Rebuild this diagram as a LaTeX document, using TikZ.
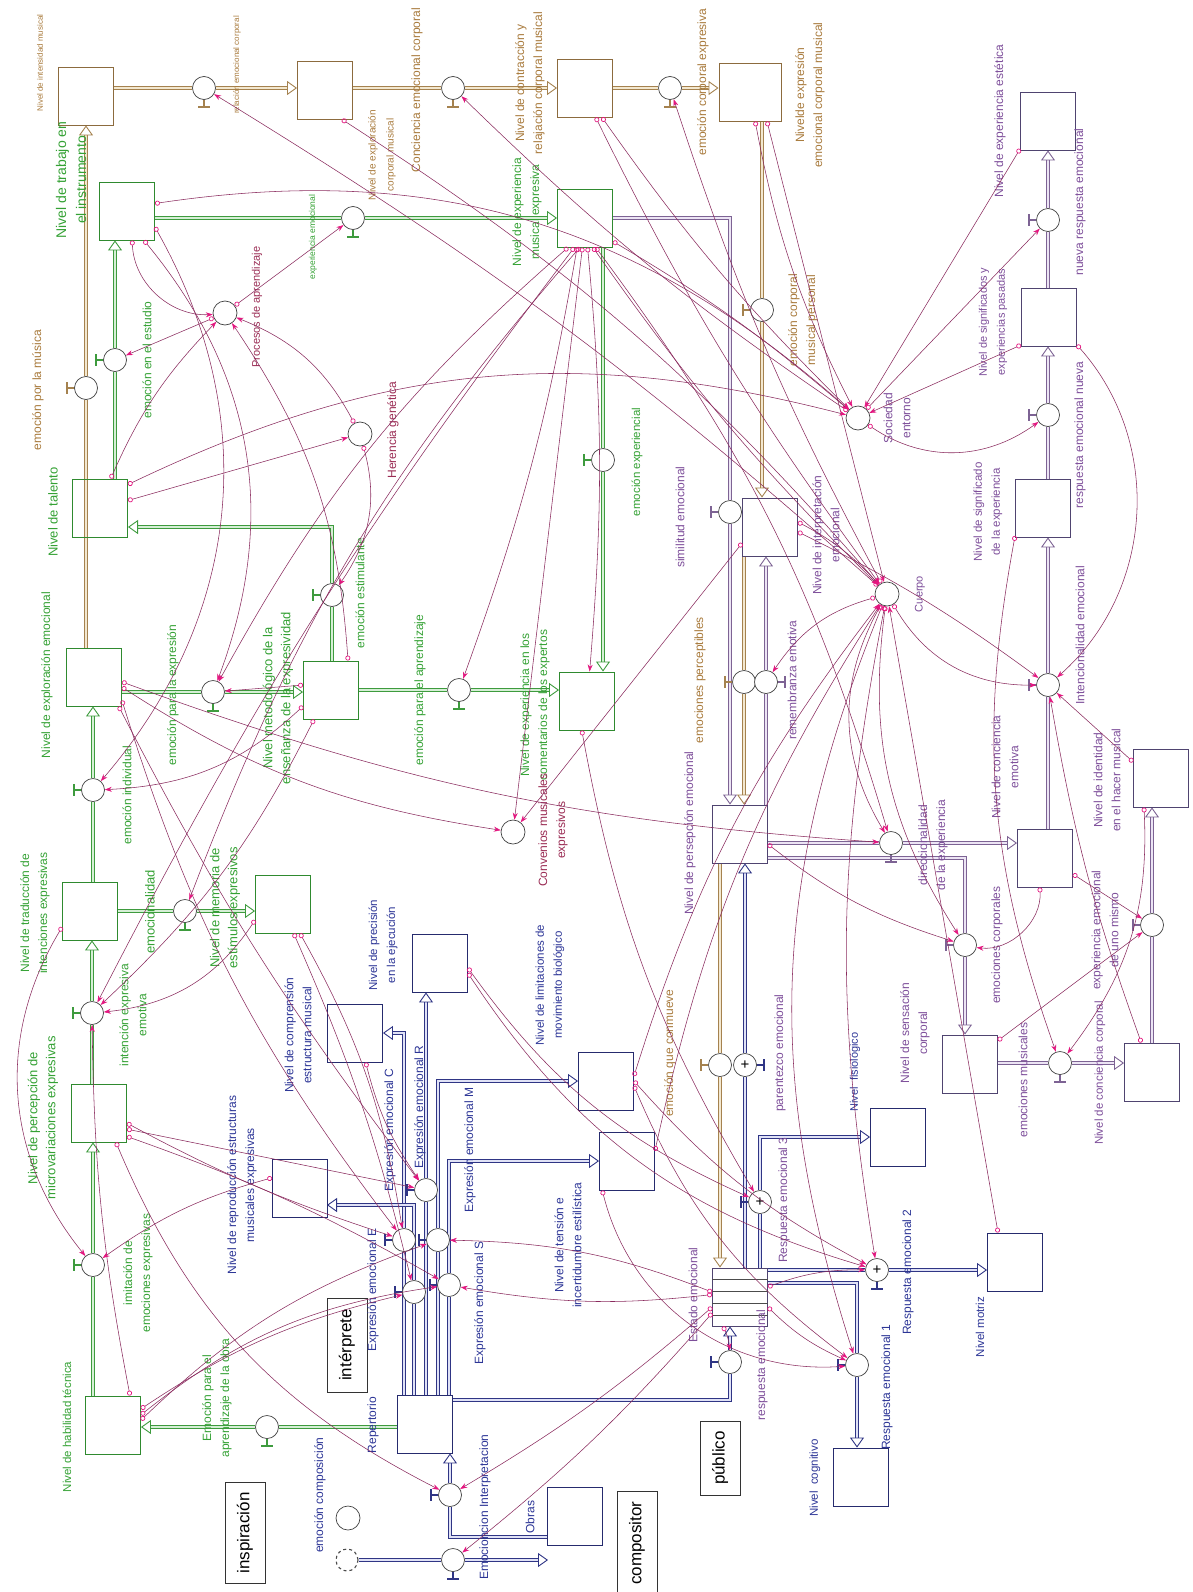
\documentclass[tikz,border=0pt]{standalone}
\usepackage{fontspec}
\setmainfont{Liberation Sans}
\usetikzlibrary{arrows.meta,positioning,calc,backgrounds}
\definecolor{ftan}{HTML}{A5824F}
\definecolor{ftanin}{HTML}{F3E8D0}
\definecolor{fgreen}{HTML}{3E9B3E}
\definecolor{fgreenin}{HTML}{D6EFD6}
\definecolor{fpurp}{HTML}{7D6394}
\definecolor{fpurpin}{HTML}{ECE4F4}
\definecolor{fblue}{HTML}{2F3585}
\definecolor{fbluein}{HTML}{E0E2F6}
\definecolor{stan}{HTML}{8C6B3E}
\definecolor{sgreen}{HTML}{2F8A2F}
\definecolor{sblue}{HTML}{262B6E}
\definecolor{spurp}{HTML}{4F4470}
\definecolor{clink}{HTML}{8A2B5E}
\definecolor{ctip}{HTML}{E3167F}
\definecolor{ltan}{HTML}{A87A3C}
\definecolor{lgreen}{HTML}{34A134}
\definecolor{lpurp}{HTML}{7D4E9A}
\definecolor{lblue}{HTML}{2C3596}
\definecolor{lmaroon}{HTML}{9A2C54}
\tikzset{
  stock/.style ={draw=#1,line width=0.9pt,minimum width=55pt,minimum height=58pt,inner sep=0pt},
  stock/.default=black,
  conv/.style  ={circle,draw=black!75,fill=white,line width=0.7pt,minimum size=24pt,inner sep=0pt},
  valve/.style ={circle,draw=black!75,fill=white,line width=0.7pt,minimum size=23pt,inner sep=0pt,
                 font=\fontsize{15}{15}\selectfont},
  lab/.style   ={rotate=90,align=center,inner sep=1pt,text=#1,font=\fontsize{12}{18}\selectfont},
  lab/.default=black,
  fs/.style    ={font=\fontsize{#1}{18}\selectfont},
  actor/.style ={draw=black!80,line width=0.9pt,rotate=90,minimum height=40pt,inner xsep=10pt,
                 font=\fontsize{17}{17}\selectfont},
  flowT/.style ={draw=ftan,double=ftanin,double distance=1.8pt,line width=0.9pt},
  flowG/.style ={draw=fgreen,double=fgreenin,double distance=1.8pt,line width=0.9pt},
  flowP/.style ={draw=fpurp,double=fpurpin,double distance=1.8pt,line width=0.9pt},
  flowB/.style ={draw=fblue,double=fbluein,double distance=1.8pt,line width=0.9pt},
  ftip/.style  ={-{Triangle[open,length=10pt,width=14pt]}},
  conn/.style  ={draw=clink,line width=0.55pt,
                 {Circle[open,length=5pt,color=ctip,line width=0.7pt]}-{Stealth[length=7pt,width=5pt,color=ctip]}}
}
% valves: name, position, flow colour; handle left / below / right
\newcommand{\valveL}[4][]{%
  \node[valve] (#2) at (#3) {#1};
  \draw[#4,line width=1.2pt] (#2.west) -- ++(-6,0);
  \draw[#4,line width=2.6pt] (#2.west) ++(-7,-6) -- ++(0,12);}
\newcommand{\valveB}[4][]{%
  \node[valve] (#2) at (#3) {#1};
  \draw[#4,line width=1.2pt] (#2.south) -- ++(0,6);
  \draw[#4,line width=2.6pt] (#2.south) ++(-6,7) -- ++(12,0);}
\newcommand{\valveR}[4][]{%
  \node[valve] (#2) at (#3) {#1};
  \draw[#4,line width=1.2pt] (#2.east) -- ++(6,0);
  \draw[#4,line width=2.6pt] (#2.east) ++(7,-6) -- ++(0,12);}

\begin{document}
\begin{tikzpicture}[x=1pt,y=-1pt]
\useasboundingbox (0,0) rectangle (1193,1592);

% --- stocks
\node[stock=stan]   (intens)    at (86,96)    {};
\node[stock=stan]   (explcorp)  at (325,90)   {};
\node[stock=stan]   (contr)     at (585,88)   {};
\node[stock=stan,minimum width=62pt] (exprcorp) at (750,92) {};
\node[stock=sgreen] (trabajo)   at (127,211)  {};
\node[stock=sgreen] (musexpr)   at (585,218)  {};
\node[stock=sgreen] (talento)   at (100,508)  {};
\node[stock=sgreen] (explemo)   at (94,677)   {};
\node[stock=sgreen] (metodo)    at (331,690)  {};
\node[stock=sgreen] (conven)    at (587,701)  {};
\node[stock=sgreen] (traduc)    at (90,911)   {};
\node[stock=sgreen] (memoria)   at (283,904)  {};
\node[stock=sgreen] (micro)     at (99,1113)  {};
\node[stock=sgreen] (habil)     at (113,1425) {};
\node[stock=sblue]  (compr)     at (355,1033) {};
\node[stock=sblue]  (precis)    at (440,963)  {};
\node[stock=sblue]  (reprod)    at (300,1188) {};
\node[stock=sblue]  (limit)     at (606,1081) {};
\node[stock=sblue]  (tension)   at (627,1161) {};
\node[stock=sblue]  (repert)    at (425,1424) {};
\node[stock=sblue]  (obras)     at (575,1516) {};
\node[stock=spurp]  (interp)    at (770,527)  {};
\node[stock=spurp]  (percep)    at (740,834)  {};
\node[stock=spurp]  (estado)    at (740,1297) {};
\foreach \k in {1,2,3,4}
  \draw[black!70,line width=0.6pt] ($(estado.north west)+(0,12*\k)$) -- ($(estado.north east)+(0,12*\k)$);
\node[stock=spurp]  (estetica)  at (1048,121) {};
\node[stock=spurp]  (signifpas) at (1049,317) {};
\node[stock=spurp]  (signifexp) at (1043,508) {};
\node[stock=spurp]  (concemo)   at (1045,858) {};
\node[stock=spurp]  (identidad) at (1161,778) {};
\node[stock=spurp]  (sensac)    at (970,1064) {};
\node[stock=spurp]  (conccorp)  at (1152,1072) {};
\node[stock=sblue]  (fisiol)    at (898,1137) {};
\node[stock=sblue]  (motriz)    at (1015,1262) {};
\node[stock=sblue]  (cognit)    at (861,1477) {};

% --- valves
\valveB{vrelac}{204,88}{ftan}
\valveB{vconc}{453,88}{ftan}
\valveB{vcorpexp}{670,88}{ftan}
\valveL{vmusica}{86,388}{ftan}
\valveL{vpersonal}{762,310}{ftan}
\valveB{vexpemo}{353,218}{fgreen}
\valveL{vestudio}{115,360}{fgreen}
\valveL{vestimul}{332,595}{fgreen}
\valveB{vexpres}{213,692}{fgreen}
\valveB{vaprend}{459,690}{fgreen}
\valveL{vexperien}{603,460}{fgreen}
\valveL{vindiv}{93,790}{fgreen}
\valveB{vemocion}{185,911}{fgreen}
\valveL{vintenc}{92,1013}{fgreen}
\valveL{vimit}{93,1265}{fgreen}
\valveB{vobra}{267,1427}{fgreen}
\valveL{vexpc}{404,1240}{fblue}
\valveL{vexpe}{414,1292}{fblue}
\valveL{vexpr}{426,1190}{fblue}
\valveL{vexpm}{438,1240}{fblue}
\valveL{vexps}{449,1285}{fblue}
\valveL{vinterp}{450,1495}{fblue}
\valveB{vcompos}{453,1560}{fblue}
\valveL{vresp}{730,1362}{fblue}
\valveL{vsimil}{730,512}{fpurp}
\valveL{vpercept}{744,682}{ftan}
\valveR{vrememb}{766,682}{fpurp}
\valveL{vconmueve}{720,1065}{ftan}
\valveR[+]{vparent}{745,1065}{fblue}
\valveL[+]{vresp3}{760,1202}{fblue}
\valveB[+]{vresp2}{877,1270}{fblue}
\valveL{vresp1}{857,1365}{fblue}
\valveB{vdirecc}{891,843}{fpurp}
\valveL{vemocorp}{965,945}{fpurp}
\valveB{vmusicales}{1060,1063}{fpurp}
\valveL{vunomismo}{1152,925}{fpurp}
\valveL{vintenc2}{1048,685}{fpurp}
\valveL{vrespnueva}{1048,415}{fpurp}
\valveL{vnueva}{1048,220}{fpurp}

% --- converters
\node[conv] (cprocesos) at (225,313)  {};
\node[conv] (cherencia) at (360,434)  {};
\node[conv] (cconven)   at (513,832)  {};
\node[conv] (csociedad) at (858,418)  {};
\node[conv] (ccuerpo)   at (887,594)  {};
\node[conv] (ccompos)   at (348,1518) {};
\node[circle,draw=black!70,dashed,line width=1.1pt,minimum size=22pt] (nube) at (347,1560) {};
\coordinate (talin)  at (128,527);
\coordinate (repin)  at (327,1205);
\coordinate (obin)   at (548,1537);
\coordinate (obout)  at (548,1560);
\coordinate (repout) at (452,1400);
\coordinate (pcout)  at (767,858);
\coordinate (estout) at (767,1283);

% --- actors
\node[actor,minimum width=97pt]  (inspiracion) at (245,1533) {inspiración};
\node[actor,minimum width=94pt]  (interprete)  at (347,1345) {intérprete};
\node[actor,minimum width=100pt] (compositor)  at (637,1543) {compositor};
\node[actor,minimum width=70pt]  (publico)     at (720,1458) {público};

% --- labels
\node[lab=ltan,fs=8]    (l-intens)   at (40,63)   {Nivel de intensidad musical};
\node[lab=ltan,fs=8]    (l-relac)    at (237,65)  {relación emocional corporal};
\node[lab=ltan,fs=10]   (l-explcorp) at (382,155) {Nivel de exploración\\corporal musical};
\node[lab=ltan]         (l-conc)     at (417,90)  {Conciencia emocional corporal};
\node[lab=ltan]         (l-contr)    at (530,83)  {Nivel de contracción y\\relajación corporal musical};
\node[lab=ltan]         (l-corpexp)  at (703,82)  {emoción corporal expresiva};
\node[lab=ltan]         (l-exprcorp) at (810,95)  {Nivelde expresión\\emocional corporal musical};
\node[lab=lgreen,fs=14] (l-trabajo)  at (71,180)  {Nivel de trabajo en\\[2pt]el instrumento};
\node[lab=lgreen,fs=8.5] (l-expemo)  at (313,237) {experiencia emocional};
\node[lab=lgreen]       (l-musexpr)  at (527,212) {Nivel de experiencia\\musical expresiva};
\node[lab=lgreen]       (l-estudio)  at (147,360) {emoción en el estudio};
\node[lab=ltan]         (l-musica)   at (38,390)  {emoción por la música};
\node[lab=lmaroon,fs=11] (l-procesos) at (257,307) {Procesos de aprendizaje};
\node[lab=lgreen,fs=13] (l-talento)  at (53,512)  {Nivel de talento};
\node[lab=lgreen]       (l-explemo)  at (47,675)  {Nivel de exploración emocional};
\node[lab=lgreen]       (l-estimul)  at (360,593) {emoción estimulante};
\node[lab=lgreen,fs=13] (l-metodo)   at (278,698) {Nivel metodológico de la\\enseñanza de la expresividad};
\node[lab=lgreen]       (l-expres)   at (173,695) {emoción para la expresión};
\node[lab=lmaroon]      (l-herencia) at (393,430) {Herencia genética};
\node[lab=lgreen]       (l-aprend)   at (420,690) {emoción para el aprendizaje};
\node[lab=lgreen]       (l-conven)   at (535,705) {Nivel de experiencia en los\\comentarios de los expertos};
\node[lab=lgreen,fs=11.5] (l-experien) at (637,462) {emoción experiencial};
\node[lab=lmaroon]      (l-conv)     at (553,830) {Convenios musicales\\expresivos};
\node[lab=lgreen]       (l-indiv)    at (127,795) {emoción individual};
\node[lab=lgreen]       (l-traduc)   at (35,913)  {Nivel de traducción de\\intenciones expresivas};
\node[lab=lgreen,fs=13] (l-emocion)  at (150,912) {emocionalidad};
\node[lab=lgreen,fs=13] (l-memoria)  at (225,908) {Nivel de memoria de\\estímulos expresivos};
\node[lab=lgreen]       (l-intenc)   at (133,1015) {intención expresiva\\emotiva};
\node[lab=lgreen,fs=13] (l-micro)    at (43,1118) {Nivel de percepción de\\microvariaciones expresivas};
\node[lab=lgreen]       (l-imit)     at (138,1273) {imitación de\\emociones expresivas};
\node[lab=lgreen,fs=11.5] (l-habil)  at (67,1427) {Nivel de habilidad técnica};
\node[lab=lgreen]       (l-obra)     at (217,1398) {Emoción para el\\aprendizaje de la obra};
\node[lab=lblue]        (l-compr)    at (298,1035) {Nivel de comprensión\\estructura musical};
\node[lab=lblue,fs=11.5] (l-precis)  at (383,945) {Nivel de precisión\\en la ejecución};
\node[lab=lblue]        (l-reprod)   at (242,1185) {Nivel de reproducción estructuras\\musicales expresivas};
\node[lab=lblue,fs=11.5] (l-limit)   at (550,985) {Nivel de limitaciones de\\movimiento biológico};
\node[lab=lblue]        (l-tension)  at (568,1245) {Nivel de tensión e\\incertidumbre estilística};
\node[lab=lblue]        (l-repert)   at (373,1425) {Repertorio};
\node[lab=lblue]        (l-vinterp)  at (485,1507) {Emocioncion Interpretacion};
\node[lab=lblue]        (l-obras)    at (530,1517) {Obras};
\node[lab=lblue]        (l-compos)   at (320,1495) {emoción composición};
\node[lab=lblue]        (l-expc)     at (390,1130) {Expresión emocional C};
\node[lab=lblue]        (l-expr)     at (420,1107) {Expresión emocional R};
\node[lab=lblue]        (l-expm)     at (470,1150) {Expresión emocional M};
\node[lab=lblue]        (l-exps)     at (480,1303) {Expresión emocional S};
\node[lab=lblue]        (l-expe)     at (373,1290) {Expresión emocional E};
\node[lab=lpurp]        (l-estetica) at (1000,121) {Nivel de experiencia estética};
\node[lab=lpurp]        (l-nueva)    at (1080,202) {nueva respuesta emocional};
\node[lab=lpurp,fs=11]  (l-signifpas) at (993,322) {Nivel de significados y\\experiencias pasadas};
\node[lab=lpurp]        (l-respnueva) at (1080,435) {respuesta emocional nueva};
\node[lab=lpurp,fs=11.5] (l-signifexp) at (988,512) {Nivel de significado\\de la experiencia};
\node[lab=lpurp]        (l-sociedad) at (897,418) {Sociedad\\entorno};
\node[lab=lpurp,fs=11]  (l-cuerpo)   at (920,594) {Cuerpo};
\node[lab=lpurp]        (l-intenc2)  at (1080,635) {Intencionalidad emocional};
\node[lab=lpurp]        (l-identidad) at (1107,780) {Nivel de identidad\\en el hacer musical};
\node[lab=lpurp]        (l-concemo)  at (1005,767) {Nivel de conciencia\\emotiva};
\node[lab=lpurp]        (l-interp)   at (826,535) {Nivel de interpretación\\emocional};
\node[lab=lpurp]        (l-direcc)   at (933,845) {direccionalidad\\de la experiencia};
\node[lab=lpurp]        (l-emocorp)  at (997,945) {emociones corporales};
\node[lab=lpurp]        (l-sensac)   at (915,1033) {Nivel de sensación\\corporal};
\node[lab=lpurp]        (l-musicales) at (1023,1080) {emociones musicales};
\node[lab=lpurp,fs=11.5] (l-conccorp) at (1100,1073) {Nivel de conciencia corporal};
\node[lab=lpurp]        (l-unomismo) at (1105,930) {experiencia emocional\\de uno mismo};
\node[lab=lblue,fs=11]  (l-fisiol)   at (855,1072) {Nivel\ \ fisiológico};
\node[lab=lblue]        (l-resp2)    at (908,1272) {Respuesta emocional 2};
\node[lab=lblue,fs=11.5] (l-motriz)  at (980,1327) {Nivel motriz};
\node[lab=lblue]        (l-resp1)    at (887,1387) {Respuesta emocional 1};
\node[lab=lblue,fs=11.5] (l-cognit)  at (815,1478) {Nivel\ \ cognitivo};
\node[lab=lpurp]        (l-resp3)    at (784,1200) {Respuesta emocional 3};
\node[lab=lpurp]        (l-parent)   at (780,1053) {parentezco emocional};
\node[lab=ltan]         (l-conmueve) at (670,1053) {emoción que conmueve};
\node[lab=lpurp]        (l-percep)   at (690,833) {Nivel de persepción emocional};
\node[lab=ltan]         (l-percept)  at (700,680) {emociones perceptibles};
\node[lab=lpurp]        (l-rememb)   at (792,680) {remembranza emotiva};
\node[lab=lpurp]        (l-simil)    at (680,517) {similitud emocional};
\node[lab=ltan]         (l-personal) at (803,320) {emoción corporal\\musical personal};
\node[lab=lpurp]        (l-estado)   at (693,1295) {Estado emocional};
\node[lab=lpurp]        (l-resp)     at (762,1365) {respuesta emocional};

% --- flows
\begin{pgfonlayer}{background}
\draw[flowT] (intens.east |- vrelac) -- (vrelac);
\draw[flowT,ftip] (vrelac) -- (explcorp.west |- vrelac);
\draw[flowT] (explcorp.east |- vconc) -- (vconc);
\draw[flowT,ftip] (vconc) -- (contr.west |- vconc);
\draw[flowT] (contr.east |- vcorpexp) -- (vcorpexp);
\draw[flowT,ftip] (vcorpexp) -- (exprcorp.west |- vcorpexp);
\draw[flowT] (explemo.north -| vmusica) -- (vmusica);
\draw[flowT,ftip] (vmusica) -- (intens.south -| vmusica);
\draw[flowT] (exprcorp.south -| vpersonal) -- (vpersonal);
\draw[flowT,ftip] (vpersonal) -- (interp.north -| vpersonal);
\draw[flowG] (trabajo.east |- vexpemo) -- (vexpemo);
\draw[flowG,ftip] (vexpemo) -- (musexpr.west |- vexpemo);
\draw[flowG] (talento.north -| vestudio) -- (vestudio);
\draw[flowG,ftip] (vestudio) -- (trabajo.south -| vestudio);
\draw[flowG] (metodo.north -| vestimul) -- (vestimul);
\draw[flowG,ftip] (vestimul) |- (talin);
\draw[flowG] (vexpres -| explemo.east) -- (vexpres);
\draw[flowG,ftip] (vexpres) -- (vexpres -| metodo.west);
\draw[flowG] (vaprend -| metodo.east) -- (vaprend);
\draw[flowG,ftip] (vaprend) -- (vaprend -| conven.west);
\draw[flowG] (musexpr.south -| vexperien) -- (vexperien);
\draw[flowG,ftip] (vexperien) -- (conven.north -| vexperien);
\draw[flowG] (traduc.north -| vindiv) -- (vindiv);
\draw[flowG,ftip] (vindiv) -- (explemo.south -| vindiv);
\draw[flowG] (vemocion -| traduc.east) -- (vemocion);
\draw[flowG,ftip] (vemocion) -- (vemocion -| memoria.west);
\draw[flowG] (micro.north -| vintenc) -- (vintenc);
\draw[flowG,ftip] (vintenc) -- (traduc.south -| vintenc);
\draw[flowG] (habil.north -| vimit) -- (vimit);
\draw[flowG,ftip] (vimit) -- (micro.south -| vimit);
\draw[flowG] (vobra -| repert.west) -- (vobra);
\draw[flowG,ftip] (vobra) -- (vobra -| habil.east);
\draw[flowB] (repert.north -| vexpc) -- (vexpc);
\draw[flowB,ftip] (vexpc) |- (compr.east);
\draw[flowB] (repert.north -| vexpe) -- (vexpe);
\draw[flowB,ftip] (vexpe) |- (repin);
\draw[flowB] (repert.north -| vexpr) -- (vexpr);
\draw[flowB,ftip] (vexpr) -- (precis.south -| vexpr);
\draw[flowB] (repert.north -| vexpm) -- (vexpm);
\draw[flowB,ftip] (vexpm) |- (limit.west);
\draw[flowB] (repert.north -| vexps) -- (vexps);
\draw[flowB,ftip] (vexps) |- (tension.west);
\draw[flowB] (obin) -| (vinterp);
\draw[flowB,ftip] (vinterp) -- (repert.south -| vinterp);
\draw[flowB] (nube) -- (vcompos);
\draw[flowB,ftip] (vcompos) -- (obout);
\draw[flowB] (repout) -| (vresp);
\draw[flowB,ftip] (vresp) -- (estado.south -| vresp);
\draw[flowT] (percep.south -| vconmueve) -- (vconmueve);
\draw[flowT,ftip] (vconmueve) -- (estado.north -| vconmueve);
\draw[flowB] (estado.north -| vparent) -- (vparent);
\draw[flowB,ftip] (vparent) -- (percep.south -| vparent);
\draw[flowB] (estado.north -| vresp3) -- (vresp3);
\draw[flowB,ftip] (vresp3) |- (fisiol.west);
\draw[flowB] (estado.east |- vresp2) -- (vresp2);
\draw[flowB,ftip] (vresp2) -- (vresp2 -| motriz.west);
\draw[flowB] (estout) -| (vresp1);
\draw[flowB,ftip] (vresp1) -- (cognit.north -| vresp1);
\draw[flowP] (musexpr.east) -| (vsimil);
\draw[flowP,ftip] (vsimil) -- (percep.north -| vsimil);
\draw[flowT] (interp.south -| vpercept) -- (vpercept);
\draw[flowT,ftip] (vpercept) -- (percep.north -| vpercept);
\draw[flowP] (percep.north -| vrememb) -- (vrememb);
\draw[flowP,ftip] (vrememb) -- (interp.south -| vrememb);
\draw[flowP] (percep.east |- vdirecc) -- (vdirecc);
\draw[flowP,ftip] (vdirecc) -- (vdirecc -| concemo.west);
\draw[flowP] (pcout) -| (vemocorp);
\draw[flowP,ftip] (vemocorp) -- (sensac.north -| vemocorp);
\draw[flowP] (sensac.east |- vmusicales) -- (vmusicales);
\draw[flowP,ftip] (vmusicales) -- (vmusicales -| conccorp.west);
\draw[flowP] (conccorp.north -| vunomismo) -- (vunomismo);
\draw[flowP,ftip] (vunomismo) -- (identidad.south -| vunomismo);
\draw[flowP] (concemo.north -| vintenc2) -- (vintenc2);
\draw[flowP,ftip] (vintenc2) -- (signifexp.south -| vintenc2);
\draw[flowP] (signifexp.north -| vrespnueva) -- (vrespnueva);
\draw[flowP,ftip] (vrespnueva) -- (signifpas.south -| vrespnueva);
\draw[flowP] (signifpas.north -| vnueva) -- (vnueva);
\draw[flowP,ftip] (vnueva) -- (estetica.south -| vnueva);
\end{pgfonlayer}

% --- connectors
\draw[conn] (trabajo.15) to[bend left=25] (csociedad);
\draw[conn] (ccuerpo) to[bend right=5] (vrelac);
\draw[conn] (csociedad) to[bend left=5] (vconc);
\draw[conn] (explcorp.-60) to[bend left=8] (ccuerpo);
\draw[conn] (contr.-70) to[bend right=5] (ccuerpo);
\draw[conn] (contr.-60) to[bend right=5] (csociedad);
\draw[conn] (ccuerpo) to[bend left=5] (vcorpexp);
\draw[conn] (exprcorp.-60) -- (ccuerpo);
\draw[conn] (exprcorp.-80) to[bend right=8] (csociedad);
\draw[conn] (estetica.-135) -- (csociedad);
\draw[conn] (signifpas.-135) -- (csociedad);
\draw[conn] (csociedad) -- (vnueva);
\draw[conn] (csociedad) to[bend right=35] (vrespnueva);
\draw[conn] (signifpas.-45) to[bend left=45] (vintenc2);
\draw[conn] (musexpr.-40) to[bend left=5] (csociedad);
\draw[conn] (talento.40) to[bend left=20] (csociedad);
\draw[conn] (cprocesos) -- (vexpemo);
\draw[conn] (trabajo.-80) to[bend right=45] (cprocesos);
\draw[conn] (cprocesos) -- (vestudio);
\draw[conn] (talento.70) to[bend left=10] (cprocesos);
\draw[conn] (talento.15) -- (cherencia);
\draw[conn] (cherencia) to[bend left=25] (vestimul);
\draw[conn] (metodo.60) to[bend right=15] (cprocesos);
\draw[conn] (cherencia) to[bend right=20] (cprocesos);
\draw[conn] (trabajo.-60) to[bend left=30] (vexpres);
\draw[conn] (metodo.170) -- (vexpres);
\draw[conn] (metodo.-150) to[bend left=20] (vindiv);
\draw[conn] (trabajo.-30) to[bend left=35] (vindiv);
\draw[conn] (explemo.-40) to[bend right=10] (vexpc);
\draw[conn] (explemo.-50) to[bend right=5] (vexpr);
\draw[conn] (explemo.-20) to[bend right=12] (cconven);
\draw[conn] (explemo.-10) to[bend right=8] (vdirecc);
\draw[conn] (metodo.-120) to[bend left=10] (vintenc);
\draw[conn] (memoria.-150) to[bend left=25] (vintenc);
\draw[conn] (habil.60) to[bend left=5] (vintenc);
\draw[conn] (traduc.-150) to[bend right=35] (vimit);
\draw[conn] (reprod.160) to[bend right=10] (vimit);
\draw[conn] (memoria.-60) to[bend left=10] (vexpc);
\draw[conn] (memoria.-70) to[bend left=5] (vexpe);
\draw[conn] (micro.-20) to[bend right=5] (vexpc);
\draw[conn] (micro.-30) -- (vexpr);
\draw[conn] (micro.-40) to[bend left=5] (vexps);
\draw[conn] (habil.30) to[bend left=10] (vexpe);
\draw[conn] (habil.20) to[bend left=15] (vexps);
\draw[conn] (habil.10) to[bend left=12] (vexpm);
\draw[conn] (compr.-70) to[bend right=10] (vexpr);
\draw[conn] (musexpr.-100) to[bend right=10] (vemocion);
\draw[conn] (musexpr.-110) to[bend right=5] (vintenc);
\draw[conn] (musexpr.-95) -- (cconven);
\draw[conn] (musexpr.-105) to[bend left=5] (vaprend);
\draw[conn] (musexpr.-85) to[bend left=5] (conven);
\draw[conn] (musexpr.-75) to[bend right=5] (ccuerpo);
\draw[conn] (musexpr.-70) to[bend left=10] (vdirecc);
\draw[conn] (musexpr.-120) to[bend right=10] (vexpres);
\draw[conn] (interp.-150) -- (cconven);
\draw[conn] (interp.-10) to[bend left=5] (vintenc2);
\draw[conn] (interp.10) to[bend left=10] (ccuerpo);
\draw[conn] (ccuerpo) to[bend right=30] (vintenc2);
\draw[conn] (ccuerpo) to[bend right=20] (vrememb);
\draw[conn] (ccuerpo) to[bend right=20] (vemocorp);
\draw[conn] (ccuerpo) to[bend right=30] (vdirecc);
\draw[conn] (identidad.150) -- (vintenc2);
\draw[conn] (conccorp.110) to[bend left=5] (vintenc2);
\draw[conn] (concemo.-30) -- (vunomismo);
\draw[conn] (concemo.-100) to[bend left=50] (vemocorp);
\draw[conn] (sensac.40) -- (vunomismo);
\draw[conn] (signifexp.-135) to[bend right=15] (vmusicales);
\draw[conn] (identidad.-120) to[bend left=20] (vmusicales);
\draw[conn] (percep.-20) to[bend right=10] (vemocorp);
\draw[conn] (motriz.120) -- (ccuerpo);
\draw[conn] (ccuerpo) to[bend right=10] (vresp2);
\draw[conn] (ccuerpo) to[bend right=20] (vresp1);
\draw[conn] (limit.10) to[bend left=10] (ccuerpo);
\draw[conn] (limit.0) to[bend right=10] (vresp2);
\draw[conn] (limit.-10) to[bend right=15] (vresp1);
\draw[conn] (tension.20) to[bend left=10] (ccuerpo);
\draw[conn] (tension.-130) to[bend right=40] (vresp1);
\draw[conn] (precis.-10) to[bend right=15] (vresp3);
\draw[conn] (precis.-20) to[bend right=20] (vresp2);
\draw[conn] (conven.-100) to[bend right=10] (vresp3);
\draw[conn] (estado.-150) to[bend left=5] (vcompos);
\draw[conn] (estado.-160) to[bend left=5] (vinterp);
\draw[conn] (micro.-60) to[bend right=20] (vinterp);
\draw[conn] (estado.-120) to[bend left=10] (vresp);
\draw[conn] (estado.20) to[bend left=10] (vresp2);
\draw[conn] (estado.-20) to[bend right=10] (vresp1);
\draw[conn] (estado.170) to[bend right=10] (vexpm);
\draw[conn] (estado.175) to[bend left=8] (vexps);
\end{tikzpicture}
\end{document}
